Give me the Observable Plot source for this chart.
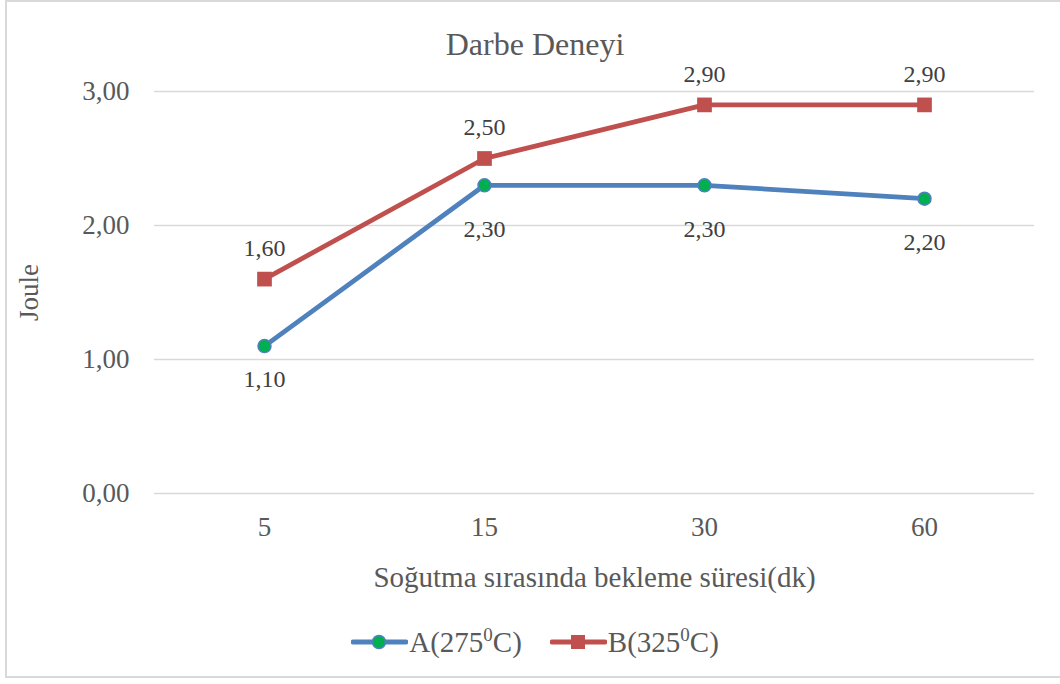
<!DOCTYPE html>
<html>
<head>
<meta charset="utf-8">
<script src="https://cdn.jsdelivr.net/npm/d3@7"></script>
<script src="https://cdn.jsdelivr.net/npm/@observablehq/plot@0.6"></script>
<style>
  html, body { margin: 0; padding: 0; background: #fff; }
  body { width: 1060px; height: 684px; overflow: hidden; }
  #chart {
    position: relative; width: 1060px; height: 684px; color: #595959;
  }
  #chart, #chart * {
    font-family: "Liberation Serif", "Tinos", "Times New Roman", serif !important;
  }
  #frame {
    position: absolute; left: 5px; top: 0; width: 1100px; height: 678px;
    border: 2px solid #d9d9d9; box-sizing: border-box; pointer-events: none;
  }
  #title {
    height: 58px; text-align: center; font-size: 32px;
    line-height: 32px; padding-top: 28px; box-sizing: border-box;
    padding-left: 10px;
  }
  #plot svg { display: block; }
  #legend {
    height: 76px; display: flex; justify-content: center; align-items: center;
    gap: 28px; font-size: 29px; padding-left: 10px; box-sizing: border-box; padding-bottom: 8px;
  }
  .item { display: flex; align-items: center; }
  .item svg { margin-right: 1px; }
  sup { font-size: 19px; vertical-align: 11px; line-height: 0; }
</style>
</head>
<body>
<div id="chart">
  <div id="frame"></div>
  <div id="title">Darbe Deneyi</div>
  <div id="plot"></div>
  <div id="legend"></div>
</div>
<script>
// Waiting time during cooling (minutes) and impact energy (Joule)
const categories = ["5", "15", "30", "60"];
const seriesA = [1.10, 2.30, 2.30, 2.20];   // A(275°C)
const seriesB = [1.60, 2.50, 2.90, 2.90];   // B(325°C)
const yTicks = [0, 1, 2, 3];

const blue = "#4F81BD", red = "#C0504D", green = "#00B050", grid = "#D9D9D9";
const serif = "'Liberation Serif', 'Tinos', 'Times New Roman', serif";
const fmt = v => v.toFixed(2).replace(".", ",");

const rowsA = categories.map((c, i) => ({cat: c, value: seriesA[i], idx: i}));
const rowsB = categories.map((c, i) => ({cat: c, value: seriesB[i], idx: i}));

const chart = Plot.plot({
  width: 1060,
  height: 550,
  marginLeft: 154,
  marginRight: 26,
  marginTop: 33,
  marginBottom: 115,
  style: {fontFamily: serif, color: "#595959", background: "transparent"},
  x: {type: "point", domain: categories, padding: 0.5},
  y: {domain: [0, 3]},
  marks: [
    Plot.ruleY(yTicks, {stroke: grid, strokeWidth: 1.5}),
    Plot.axisY(yTicks, {
      tickSize: 0, tickPadding: 25, tickFormat: fmt, fontSize: 27,
      label: "Joule", labelAnchor: "center", labelArrow: "none", labelOffset: 136
    }),
    Plot.axisX({
      tickSize: 0, tickPadding: 23, fontSize: 27,
      label: "Soğutma sırasında bekleme süresi(dk)", labelAnchor: "center",
      labelArrow: "none", labelOffset: 93, fontSize: 29
    }),
    Plot.axisX({tickSize: 0, tickPadding: 23, fontSize: 27, label: null}),
    Plot.line(rowsA, {x: "cat", y: "value", stroke: blue, strokeWidth: 4.8}),
    Plot.line(rowsB, {x: "cat", y: "value", stroke: red, strokeWidth: 4.8}),
    Plot.dot(rowsA, {x: "cat", y: "value", r: 6.5, fill: green, stroke: blue, strokeWidth: 1.5}),
    Plot.dot(rowsB, {x: "cat", y: "value", symbol: "square", r: 8.3, fill: red}),
    // value labels: A below its points, B above
    Plot.text(rowsA.filter(d => d.idx === 0), {x: "cat", y: "value", text: d => fmt(d.value), dy: 33, fontSize: 24, fill: "#404040"}),
    Plot.text(rowsA.filter(d => d.idx > 0), {x: "cat", y: "value", text: d => fmt(d.value), dy: 44, fontSize: 24, fill: "#404040"}),
    Plot.text(rowsB, {x: "cat", y: "value", text: d => fmt(d.value), dy: -31, fontSize: 24, fill: "#404040"})
  ]
});
// the first x axis only carries the title; hide its duplicate tick labels
const axes = chart.querySelectorAll("g[aria-label='x-axis tick label']");
if (axes.length > 1) axes[0].remove();
document.getElementById("plot").append(chart);

// Legend: line swatch with its marker, then the series name
const legendItems = [
  {name: "A(275", sup: "0", tail: "C)", color: blue, marker: "circle"},
  {name: "B(325", sup: "0", tail: "C)", color: red, marker: "square"}
];
const legend = document.getElementById("legend");
for (const it of legendItems) {
  const div = document.createElement("div");
  div.className = "item";
  const m = it.marker === "circle"
    ? `<circle cx="28" cy="10" r="6.5" fill="${green}" stroke="${blue}" stroke-width="1.5"/>`
    : `<rect x="21" y="3" width="14" height="14" fill="${red}"/>`;
  div.innerHTML = `<svg width="57" height="20"><line x1="2" x2="55" y1="10" y2="10" stroke="${it.color}" stroke-width="4.8" stroke-linecap="round"/>${m}</svg><span>${it.name}<sup>${it.sup}</sup>${it.tail}</span>`;
  legend.append(div);
}
</script>
</body>
</html>
